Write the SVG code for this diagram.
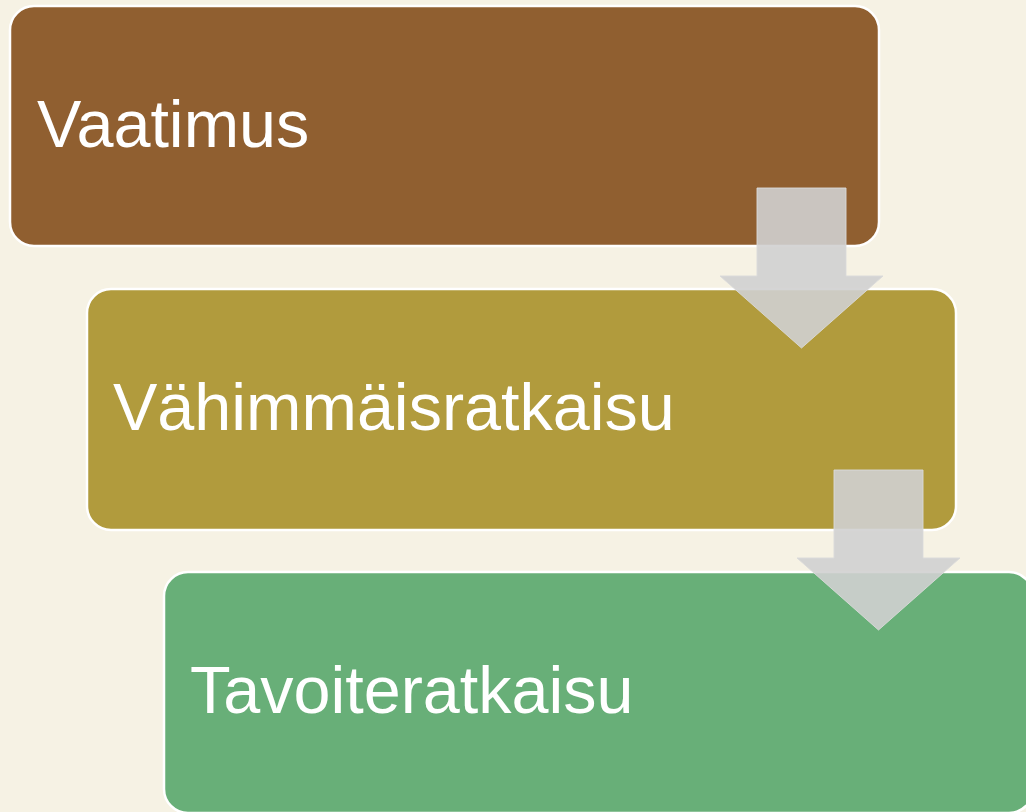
<svg xmlns="http://www.w3.org/2000/svg" width="1026" height="812" viewBox="0 0 1026 812">
<style>
.box{stroke:#FFFFFF;stroke-width:2.5}
.lbl{font-family:"Liberation Sans",Arial,sans-serif;font-size:66.5px;fill:#FFFFFF}
.arr{fill:#D0D0D0;fill-opacity:0.9;stroke:#DADADA;stroke-opacity:0.9;stroke-width:1}
</style>
<rect x="0" y="0" width="1026" height="812" fill="#F6F2E4"/>
<g id="node-vaatimus">
<rect class="box" x="10" y="6" width="869" height="240" rx="24" fill="#905F30"/>
<text class="lbl" x="37" y="147">Vaatimus</text>
</g>
<g id="node-vahimmaisratkaisu">
<rect class="box" x="87" y="289" width="869" height="241" rx="24" fill="#B19B3D"/>
<text class="lbl" x="113" y="430">Vähimmäisratkaisu</text>
</g>
<g id="node-tavoiteratkaisu">
<rect class="box" x="164" y="572" width="869" height="241" rx="24" fill="#68AF78"/>
<text class="lbl" x="190" y="713">Tavoiteratkaisu</text>
</g>
<g id="connectors">
<polygon class="arr" points="757,188 846,188 846,276 883,276 801.5,348 720,276 757,276"/>
<polygon class="arr" points="834,470 923,470 923,558 960,558 878.5,630 797,558 834,558"/>
</g>
</svg>
